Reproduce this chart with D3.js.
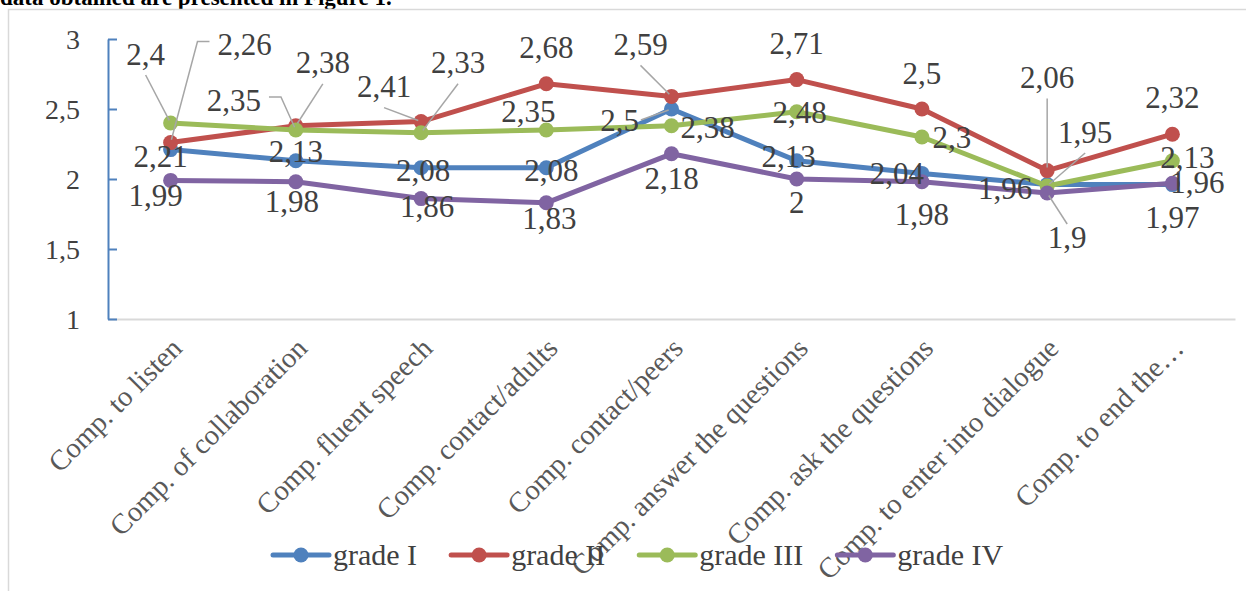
<!DOCTYPE html>
<html>
<head>
<meta charset="utf-8">
<script src="https://cdn.jsdelivr.net/npm/d3@7/dist/d3.min.js"></script>
<style>
  html, body { margin: 0; padding: 0; background: #fff; }
  svg { display: block; }
</style>
</head>
<body>
<svg id="chart" width="1246" height="591"></svg>
<script>
// ---------------- DATA ----------------
const categories = [
  "Comp. to listen",
  "Comp. of collaboration",
  "Comp. fluent speech",
  "Comp. contact/adults",
  "Comp. contact/peers",
  "Comp. answer the questions",
  "Comp. ask the questions",
  "Comp. to enter into dialogue",
  "Comp. to end the\u2026"
];
const seriesNames = ["grade I", "grade II", "grade III", "grade IV"];
const gradeI   = [2.21, 2.13, 2.08, 2.08, 2.5, 2.13, 2.04, 1.96, 1.96];
const gradeII  = [2.26, 2.38, 2.41, 2.68, 2.59, 2.71, 2.5, 2.06, 2.32];
const gradeIII = [2.4, 2.35, 2.33, 2.35, 2.38, 2.48, 2.3, 1.95, 2.13];
const gradeIV  = [1.99, 1.98, 1.86, 1.83, 2.18, 2, 1.98, 1.9, 1.97];
const yTicks = [1, 1.5, 2, 2.5, 3];
const introText = "data obtained are presented in Figure 1.";

// ---------------- LAYOUT / STYLE ----------------
const colors = ["#4F81BD", "#C0504D", "#9BBB59", "#8064A2"];
const FONT = "'Liberation Serif', 'Times New Roman', serif";
// label placement: [dx, dy, leader] relative to the point (leader: 0 none, 1 vertical, 2 side stub)
const labelPlacement = [
  [[-10, 7, 0], [0, -9, 0], [2, 3, 0], [5, 3, 0], [-52, 11, 2], [-8, -4, 0], [-25, 0, 0], [-42, 4, 0], [25, -2, 0]],
  [[74, -98, 2], [27, -63, 1], [-37, -35, 1], [0, -36, 0], [-31, -52, 1], [0, -36, 0], [0, -36, 0], [0, -93, 1], [0, -37, 0]],
  [[-25, -69, 1], [-62, -30, 2], [37, -70, 1], [-18, -19, 0], [36, 2, 0], [3, 1, 0], [30, 0, 0], [38, -54, 1], [15, -3, 0]],
  [[-15, 15, 0], [-4, 20, 0], [6, 8, 0], [3, 16, 0], [0, 25, 0], [0, 23, 0], [0, 33, 0], [20, 44, 1], [0, 34, 0]]
];

const allSeries = [gradeI, gradeII, gradeIII, gradeIV];

const svg = d3.select("#chart");

// intro text (cut at top)
svg.append("text")
  .attr("x", 0).attr("y", 5)
  .attr("font-family", FONT)
  .attr("font-weight", "bold")
  .attr("font-size", 23)
  .attr("fill", "#000")
  .text(introText);

// chart frame
svg.append("rect")
  .attr("x", 8.5).attr("y", 9.5)
  .attr("width", 1260).attr("height", 600)
  .attr("fill", "#fff")
  .attr("stroke", "#d9d9d9")
  .attr("stroke-width", 1.5);

const x = d3.scaleBand().domain(categories).range([108, 1235]).paddingInner(0).paddingOuter(0);
const y = d3.scaleLinear().domain([1, 3]).range([319, 39]);
const cx = c => x(c) + x.bandwidth() / 2;

const locale = d3.formatLocale({ decimal: ",", thousands: ".", grouping: [3], currency: ["", ""] });
const fmt = locale.format("");

// x axis
const xAxis = svg.append("g")
  .attr("transform", "translate(0,319)")
  .call(d3.axisBottom(x).tickSize(0).tickSizeOuter(0));
xAxis.select(".domain").attr("stroke", "#d9d9d9").attr("stroke-width", 2);
xAxis.selectAll(".tick text")
  .attr("font-family", FONT)
  .attr("font-size", 28.5)
  .attr("fill", "#595959")
  .attr("text-anchor", "end")
  .attr("x", 0).attr("y", 0).attr("dy", 0)
  .attr("transform", "translate(13,31) rotate(-45)");

// y axis (ticks inside)
const yAxis = svg.append("g")
  .attr("transform", "translate(108,0)")
  .call(d3.axisLeft(y).tickValues(yTicks).tickFormat(fmt).tickSizeInner(-9).tickSizeOuter(0).tickPadding(28));
yAxis.select(".domain").attr("stroke", "#4F81BD").attr("stroke-width", 2);
yAxis.selectAll(".tick line").attr("stroke", "#4F81BD").attr("stroke-width", 2);
yAxis.selectAll(".tick text")
  .attr("font-family", FONT)
  .attr("font-size", 28)
  .attr("fill", "#404040")
  .attr("dy", "0.34em");

// series
const line = d3.line().x((d, i) => cx(categories[i])).y(d => y(d));
allSeries.forEach((vals, s) => {
  const g = svg.append("g");
  g.append("path")
    .datum(vals)
    .attr("d", line)
    .attr("fill", "none")
    .attr("stroke", colors[s])
    .attr("stroke-width", 5)
    .attr("stroke-linejoin", "round")
    .attr("stroke-linecap", "round");
  g.selectAll("circle")
    .data(vals)
    .join("circle")
    .attr("cx", (d, i) => cx(categories[i]))
    .attr("cy", d => y(d))
    .attr("r", 7.5)
    .attr("fill", colors[s]);
});

// data labels and leader lines
const LFS = 31;
const labelLayer = svg.append("g");
allSeries.forEach((vals, s) => {
  vals.forEach((v, i) => {
    const px = cx(categories[i]), py = y(v);
    const [dx, dy, leader] = labelPlacement[s][i];
    const lx = px + dx, ly = py + dy;
    const t = labelLayer.append("text")
      .attr("x", lx).attr("y", ly)
      .attr("dy", "0.34em")
      .attr("text-anchor", "middle")
      .attr("font-family", FONT)
      .attr("font-size", LFS)
      .attr("fill", "#404040")
      .text(fmt(v));
    if (leader) {
      const w = t.node().getComputedTextLength();
      const h = 22;
      let pts;
      if (leader === 1) {
        const sy = py > ly ? ly + h / 2 + 10 : ly - h / 2 - 2;
        pts = [[lx, sy], [px, py]];
      } else {
        const side = px < lx ? -1 : 1;
        const sx = lx + side * (w / 2 + 8);
        pts = [[sx, ly - 3], [sx + side * 12, ly - 3], [px, py]];
        if (Math.abs(py - ly) < 15) pts = [[sx - side * 6, ly], [px, py]];
      }
      const last = pts[pts.length - 1], prev = pts[pts.length - 2];
      const L = Math.hypot(last[0] - prev[0], last[1] - prev[1]);
      const k = Math.max(0, (L - 3) / L);
      pts[pts.length - 1] = [prev[0] + (last[0] - prev[0]) * k, prev[1] + (last[1] - prev[1]) * k];
      svg.append("path")
        .attr("d", d3.line()(pts))
        .attr("fill", "none")
        .attr("stroke", "#a6a6a6")
        .attr("stroke-width", 1.5);
    }
  });
});
labelLayer.raise();

// legend
const legend = svg.append("g");
let lxPos = 273;
const legY = 555;
seriesNames.forEach((name, s) => {
  const g = legend.append("g");
  g.append("line")
    .attr("x1", lxPos).attr("x2", lxPos + 56)
    .attr("y1", legY).attr("y2", legY)
    .attr("stroke", colors[s]).attr("stroke-width", 5).attr("stroke-linecap", "round");
  g.append("circle")
    .attr("cx", lxPos + 28).attr("cy", legY).attr("r", 7.5)
    .attr("fill", colors[s]);
  const t = g.append("text")
    .attr("x", lxPos + 60).attr("y", legY)
    .attr("dy", "0.34em")
    .attr("font-family", FONT)
    .attr("font-size", 30)
    .attr("fill", "#404040")
    .text(name);
  lxPos += 60 + t.node().getComputedTextLength() + 34;
});
</script>
</body>
</html>
